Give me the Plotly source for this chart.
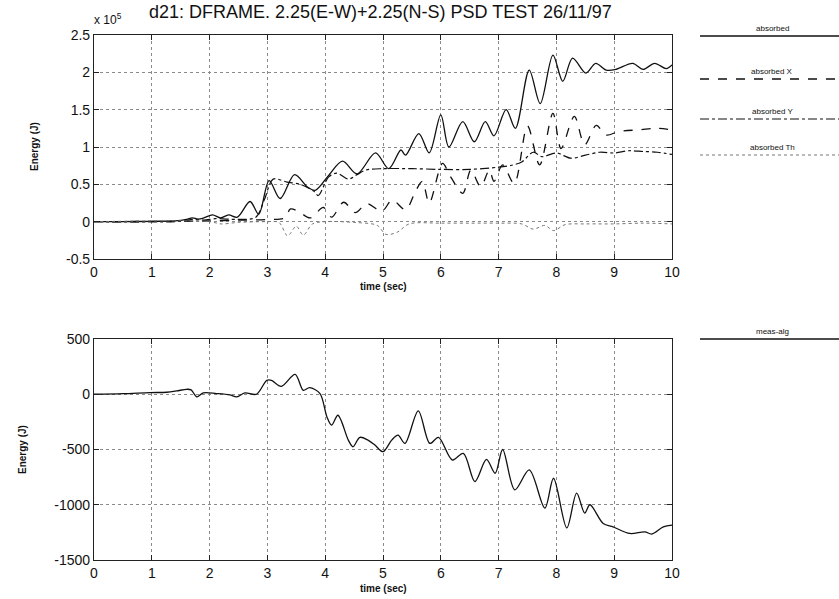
import plotly.graph_objects as go

# ---------------- data (energy in units of 1e5 J for top panel) ----------------
t_abs = [0, 0.5, 1.0, 1.4, 1.6, 1.7, 1.8, 1.9, 2.05, 2.19, 2.33, 2.48, 2.70, 2.85, 3.03, 3.22,
         3.47, 3.70, 3.83, 4.06, 4.30, 4.55, 4.87, 5.10, 5.31, 5.39, 5.62, 5.80, 6.00, 6.14,
         6.38, 6.58, 6.77, 6.92, 7.13, 7.29, 7.53, 7.72, 7.94, 8.11, 8.28, 8.51, 8.68, 8.86,
         9.03, 9.32, 9.50, 9.70, 9.90, 10.0]
absorbed = [0, 0, 0.005, 0.01, 0.03, 0.05, 0.035, 0.05, 0.09, 0.05, 0.09, 0.06, 0.27, 0.10, 0.55, 0.31,
            0.63, 0.46, 0.42, 0.62, 0.81, 0.64, 0.92, 0.71, 0.96, 0.89, 1.18, 0.92, 1.43, 1.00,
            1.34, 1.07, 1.34, 1.15, 1.50, 1.25, 2.03, 1.58, 2.23, 1.88, 2.19, 1.99, 2.12, 2.03,
            2.04, 2.12, 2.04, 2.12, 2.05, 2.10]

t_x = [0, 1.5, 2.0, 2.5, 3.0, 3.3, 3.40, 3.55, 3.74, 3.97, 4.11, 4.32, 4.52, 4.72, 4.98, 5.16,
       5.39, 5.57, 5.68, 5.80, 6.03, 6.17, 6.38, 6.52, 6.69, 6.84, 6.92, 7.07, 7.27, 7.50, 7.71,
       7.94, 8.08, 8.31, 8.49, 8.69, 8.86, 9.09, 9.44, 9.73, 10.0]
absorbed_x = [0, 0.005, 0.01, 0.02, 0.03, 0.05, 0.17, 0.13, 0.05, 0.19, 0.06, 0.26, 0.12, 0.24, 0.14, 0.29,
              0.16, 0.42, 0.54, 0.25, 0.78, 0.60, 0.38, 0.69, 0.47, 0.69, 0.54, 0.76, 0.51, 1.28, 0.76,
              1.45, 0.98, 1.41, 1.03, 1.29, 1.16, 1.21, 1.23, 1.25, 1.23]

t_y = [0, 1.5, 1.7, 1.9, 2.1, 2.5, 2.8, 2.95, 3.10, 3.34, 3.57, 3.80, 3.88, 4.06, 4.2, 4.4, 4.55,
       4.7, 5.0, 5.5, 6.0, 6.5, 7.0, 7.25, 7.4, 7.6, 7.75, 8.0, 8.25, 8.5, 8.75, 9.0, 9.25, 9.5,
       9.75, 10.0]
absorbed_y = [0, 0.005, 0.03, 0.02, 0.04, 0.03, 0.06, 0.30, 0.57, 0.53, 0.50, 0.41, 0.35, 0.60, 0.65, 0.57, 0.63,
              0.69, 0.71, 0.71, 0.70, 0.70, 0.73, 0.76, 0.80, 0.93, 0.87, 0.92, 0.85, 0.89, 0.93, 0.92, 0.95, 0.94,
              0.93, 0.90]

t_th = [0, 2.0, 2.2, 2.5, 3.0, 3.2, 3.35, 3.5, 3.62, 3.78, 4.0, 4.5, 4.9, 5.05, 5.25, 5.45, 6.0,
        6.5, 7.0, 7.4, 7.6, 7.8, 7.95, 8.15, 8.5, 9.0, 9.5, 10.0]
absorbed_th = [0, 0, -0.03, -0.01, 0.0, -0.01, -0.19, -0.06, -0.18, -0.03, 0.0, -0.01, -0.05, -0.17, -0.14, -0.03, -0.02,
               -0.02, -0.02, -0.03, -0.10, -0.05, -0.12, -0.04, -0.03, -0.03, -0.02, -0.03]

t_meas = [0, 0.5, 0.97, 1.26, 1.43, 1.60, 1.68, 1.78, 1.89, 2.12, 2.35, 2.47, 2.61, 2.81, 2.99, 3.07,
          3.24, 3.48, 3.62, 3.73, 3.91, 4.03, 4.11, 4.22, 4.40, 4.48, 4.60, 4.74, 4.86, 5.0, 5.15, 5.26,
          5.38, 5.61, 5.81, 5.96, 6.20, 6.39, 6.59, 6.79, 6.94, 7.07, 7.28, 7.53, 7.80, 7.95, 8.18, 8.35,
          8.49, 8.58, 8.81, 8.98, 9.27, 9.53, 9.65, 9.85, 10.0]
meas_alg = [0, 5, 15, 18, 30, 45, 40, -24, 12, 6, -6, -24, 12, 0, 126, 126,
            72, 180, 36, 60, 6, -205, -280, -190, -415, -475, -390, -415, -460, -520, -415, -370,
            -445, -150, -445, -390, -595, -535, -790, -590, -715, -500, -865, -685, -1030, -760, -1210, -895,
            -1075, -1000, -1170, -1200, -1260, -1245, -1265, -1200, -1185]

x_ticks = [0, 1, 2, 3, 4, 5, 6, 7, 8, 9, 10]
top_ticks = [-0.5, 0, 0.5, 1, 1.5, 2, 2.5]
top_ticktext = ["-0.5", "0", "0.5", "1", "1.5", "2", "2.5"]
bot_ticks = [-1500, -1000, -500, 0, 500]
bot_ticktext = ["-1500", "-1000", "-500", "0", "500"]

title = "d21: DFRAME. 2.25(E-W)+2.25(N-S) PSD TEST 26/11/97"
x_label = "time (sec)"
y_label = "Energy (J)"
legend_top = [("absorbed", "solid", "#111111", 1.3),
              ("absorbed X", "dash", "#111111", 1.3),
              ("absorbed Y", "dashdot", "#111111", 1.2),
              ("absorbed Th", "dot", "#777777", 1.0)]
legend_bot = [("meas-alg", "solid", "#111111", 1.3)]

# ---------------- figure ----------------
W, H = 839, 599
FONT = "Arial, Liberation Sans, sans-serif"

def px_x(p):
    return p / W

def px_y(p):
    return 1 - p / H

fig = go.Figure()
sm = 0.9
fig.add_trace(go.Scatter(x=t_abs, y=absorbed, mode="lines", line=dict(color="#111111", width=1.3, shape="spline", smoothing=sm), xaxis="x", yaxis="y"))
fig.add_trace(go.Scatter(x=t_x, y=absorbed_x, mode="lines", line=dict(color="#111111", width=1.3, dash="dash", shape="spline", smoothing=sm), xaxis="x", yaxis="y"))
fig.add_trace(go.Scatter(x=t_y, y=absorbed_y, mode="lines", line=dict(color="#111111", width=1.2, dash="dashdot", shape="spline", smoothing=sm), xaxis="x", yaxis="y"))
fig.add_trace(go.Scatter(x=t_th, y=absorbed_th, mode="lines", line=dict(color="#777777", width=1.0, dash="dot", shape="spline", smoothing=sm), xaxis="x", yaxis="y"))
fig.add_trace(go.Scatter(x=t_meas, y=meas_alg, mode="lines", line=dict(color="#111111", width=1.3, shape="spline", smoothing=sm), xaxis="x2", yaxis="y2"))

axis_common = dict(showline=True, linecolor="#222222", linewidth=1.2, mirror="ticks",
                   ticks="inside", ticklen=5, tickcolor="#222222", automargin=False,
                   showgrid=True, gridcolor="#8a8a8a", griddash="dot", gridwidth=1,
                   zeroline=False, tickfont=dict(family=FONT, size=14, color="#111111"))

xdom = [px_x(94), px_x(672)]
fig.update_layout(
    width=W, height=H,
    margin=dict(l=0, r=0, t=0, b=0, autoexpand=False),
    paper_bgcolor="white", plot_bgcolor="white",
    showlegend=False,
    xaxis=dict(domain=xdom, range=[0, 10], tickvals=x_ticks, anchor="y", **axis_common),
    yaxis=dict(domain=[px_y(259), px_y(35)], range=[-0.5, 2.5], tickvals=top_ticks, ticktext=top_ticktext,
               anchor="x", **axis_common),
    xaxis2=dict(domain=xdom, range=[0, 10], tickvals=x_ticks, anchor="y2", **axis_common),
    yaxis2=dict(domain=[px_y(560), px_y(339)], range=[-1500, 500], tickvals=bot_ticks, ticktext=bot_ticktext,
                anchor="x2", **axis_common),
)

lab_font = dict(family=FONT, size=10, color="#111111")
annotations = [
    dict(text=title, x=px_x(380), y=px_y(12), xref="paper", yref="paper", showarrow=False,
         xanchor="center", yanchor="middle", font=dict(family=FONT, size=18, color="#111111")),
    dict(text="x 10<sup>5</sup>", x=px_x(92), y=px_y(19), xref="paper", yref="paper", showarrow=False,
         xanchor="left", yanchor="middle", font=dict(family=FONT, size=12, color="#111111")),
    dict(text="<b>" + x_label + "</b>", x=px_x(383), y=px_y(286), xref="paper", yref="paper", showarrow=False,
         xanchor="center", yanchor="middle", font=lab_font),
    dict(text="<b>" + x_label + "</b>", x=px_x(383), y=px_y(588), xref="paper", yref="paper", showarrow=False,
         xanchor="center", yanchor="middle", font=lab_font),
    dict(text="<b>" + y_label + "</b>", x=px_x(34), y=px_y(147), xref="paper", yref="paper", showarrow=False,
         xanchor="center", yanchor="middle", textangle=-90, font=lab_font),
    dict(text="<b>" + y_label + "</b>", x=px_x(22), y=px_y(450), xref="paper", yref="paper", showarrow=False,
         xanchor="center", yanchor="middle", textangle=-90, font=lab_font),
]
shapes = []
leg_y_top = [36, 79, 119, 155]
for (name, dash, col, wdt), yy in zip(legend_top, leg_y_top):
    shapes.append(dict(type="line", xref="paper", yref="paper", x0=px_x(700), x1=1.0,
                       y0=px_y(yy), y1=px_y(yy), line=dict(color=col, width=wdt, dash=dash)))
    annotations.append(dict(text=name, x=px_x(772), y=px_y(yy - 1), xref="paper", yref="paper", showarrow=False,
                            xanchor="center", yanchor="bottom", font=dict(family=FONT, size=8, color="#111111")))
for (name, dash, col, wdt), yy in zip(legend_bot, [339]):
    shapes.append(dict(type="line", xref="paper", yref="paper", x0=px_x(700), x1=1.0,
                       y0=px_y(yy), y1=px_y(yy), line=dict(color=col, width=wdt, dash=dash)))
    annotations.append(dict(text=name, x=px_x(772), y=px_y(yy - 1), xref="paper", yref="paper", showarrow=False,
                            xanchor="center", yanchor="bottom", font=dict(family=FONT, size=8, color="#111111")))

fig.update_layout(annotations=annotations, shapes=shapes)
fig.write_html("out.html", config={"displayModeBar": False},
               post_script="document.body.style.margin='0';document.body.style.padding='0';document.body.style.overflow='hidden';")
